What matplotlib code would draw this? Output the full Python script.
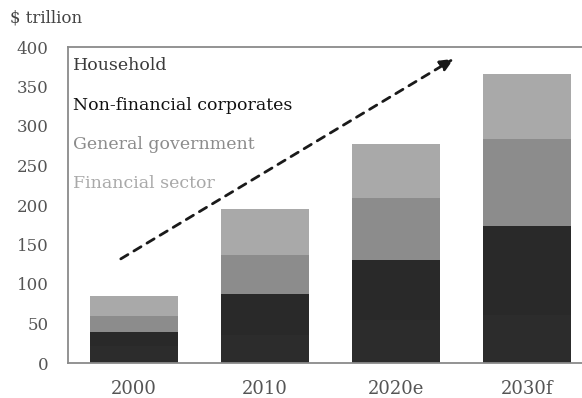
import numpy as np
import matplotlib.pyplot as plt

plt.rcParams['font.family'] = ['DejaVu Serif']

# debt by sector, $ trillion
years = ['2000', '2010', '2020e', '2030f']
household = [22, 35, 55, 61]
corporates = [17, 52, 75, 112]
government = [21, 50, 79, 110]
financial = [25, 58, 68, 83]

seg_colors = ['#2c2c2c', '#292929', '#8c8c8c', '#a9a9a9']
label_colors = ['#3a3a3a', '#111111', '#8c8c8c', '#a9a9a9']
names = ['Household', 'Non-financial corporates', 'General government', 'Financial sector']

fig = plt.figure(figsize=(5.82, 3.98), dpi=100)
ax = fig.add_axes([68 / 582, 1 - 363 / 398, 1 - 68 / 582, 316 / 398])

x = np.arange(len(years))
bottom = np.zeros(len(years))
for vals, c in zip([household, corporates, government, financial], seg_colors):
    ax.bar(x, vals, width=0.67, bottom=bottom, color=c, edgecolor='none')
    bottom += np.array(vals)

ax.set_xlim(-0.505, 3.42)
ax.set_ylim(0, 400)
ax.set_yticks(range(0, 401, 50))
ax.set_xticks(x)
ax.set_xticklabels(years)
ax.tick_params(length=0, colors='#555555')
ax.tick_params(axis='x', pad=12, labelsize=13)
ax.tick_params(axis='y', pad=14, labelsize=12)

for side in ['left', 'top', 'bottom']:
    ax.spines[side].set_color('#8a8a8a')
    ax.spines[side].set_linewidth(1.3)
ax.spines['right'].set_visible(False)

# legend as coloured text
for i, (n, c) in enumerate(zip(names, label_colors)):
    ax.text(0.01, 0.94 - i * 0.124, n, transform=ax.transAxes, color=c,
            fontsize=12.5, ha='left', va='center')

# trend arrow
ax.annotate('', xy=(2.46, 387), xytext=(-0.12, 130),
            arrowprops=dict(arrowstyle='-|>,head_length=0.8,head_width=0.35',
                            linestyle=(0, (3, 2.5)), lw=2, color='#1a1a1a'))

fig.text(10 / 582, 1 - 18 / 398, '$ trillion', fontsize=12, color='#444444',
         ha='left', va='center')

fig.savefig('out.png', dpi=100)
